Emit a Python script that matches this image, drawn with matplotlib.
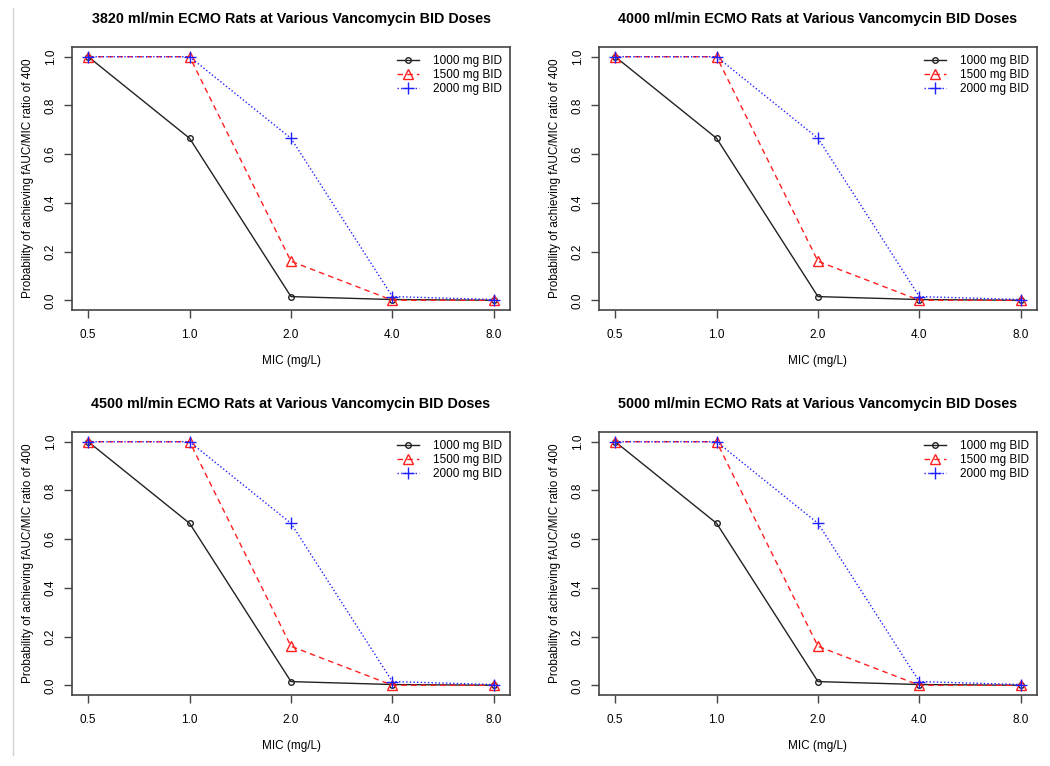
import matplotlib
matplotlib.use('Agg')

import numpy as np
import matplotlib.pyplot as plt
from matplotlib.lines import Line2D

plt.rcParams['font.family'] = ['Liberation Sans', 'DejaVu Sans']

# -----------------------------
# Data
# -----------------------------
mic_labels = ['0.5', '1.0', '2.0', '4.0', '8.0']
flow_rates = ['3820', '4000', '4500', '5000']
dose_labels = ['1000 mg BID', '1500 mg BID', '2000 mg BID']

p_1000 = [1.0, 0.665, 0.015, 0.003, 0.0]
p_1500 = [1.0, 1.0, 0.16, 0.0, 0.0]
p_2000 = [1.0, 1.0, 0.665, 0.015, 0.003]

series = [p_1000, p_1500, p_2000]
colors = ['#222222', '#ff2020', '#2020ff']
styles = ['-', (0, (4, 3)), (0, (1, 1.6))]
markers = ['o', '^', '+']
msizes = [4, 6.5, 9]

# -----------------------------
# Layout
# -----------------------------
fig = plt.figure(figsize=(10.5, 7.66), dpi=100)
W, H = 1050, 766
boxes = [(72, 47, 510, 310), (599, 47, 1037, 310),
         (72, 432, 510, 695), (599, 432, 1037, 695)]

x = np.arange(1, len(mic_labels) + 1)

for (l, t, r, b), flow in zip(boxes, flow_rates):
    ax = fig.add_axes([l / W, 1 - b / H, (r - l) / W, (b - t) / H])
    for vals, c, ls, m, ms, lab in zip(series, colors, styles, markers, msizes, dose_labels):
        ax.plot(x, vals, color=c, linestyle=ls, linewidth=1.0, marker=m,
                markersize=ms, markerfacecolor='none', markeredgecolor=c,
                markeredgewidth=1.0, label=lab)
    ax.set_xlim(0.84, 5.16)
    ax.set_ylim(-0.04, 1.04)
    ax.set_xticks(x)
    ax.set_xticklabels(mic_labels)
    ax.set_yticks([0.0, 0.2, 0.4, 0.6, 0.8, 1.0])
    ax.set_yticklabels(['0.0', '0.2', '0.4', '0.6', '0.8', '1.0'],
                       rotation=90, va='center')
    ax.tick_params(direction='out', length=6, width=1.0, color='#444444',
                   labelsize=8.5, pad=5)
    ax.tick_params(axis='x', pad=8)
    for sp in ax.spines.values():
        sp.set_color('#444444')
        sp.set_linewidth(1.2)
    ax.set_title(f'{flow} ml/min ECMO Rats at Various Vancomycin BID Doses',
                 fontsize=10.3, fontweight='bold', pad=17)
    ax.set_xlabel('MIC (mg/L)', fontsize=8.5, labelpad=10)
    ax.set_ylabel('Probability of achieving fAUC/MIC ratio of 400',
                  fontsize=8.5, labelpad=8)
    ax.legend(loc='upper right', frameon=False, fontsize=8.5,
              handlelength=1.8, handletextpad=1.2, labelspacing=0.15,
              borderaxespad=0.3)

# light grey border line at left
fig.add_artist(Line2D([12.5 / W, 12.5 / W], [1 - 8 / H, 1 - 755 / H],
                      color='#d4d4d4', linewidth=1.0))

fig.savefig('out.png', dpi=100)
